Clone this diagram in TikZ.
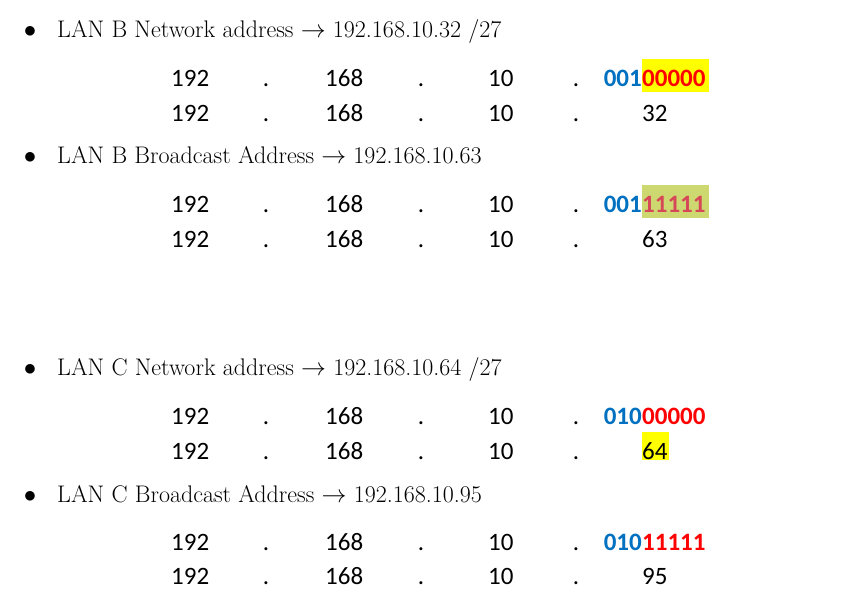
\documentclass[tikz,border=0pt]{standalone}
\usepackage{fontspec}
\newfontfamily\calib{Carlito}
\definecolor{bitblue}{RGB}{0,112,192}
\definecolor{bitred}{RGB}{255,0,0}
\definecolor{selred}{RGB}{214,72,88}
\definecolor{hlyellow}{RGB}{255,255,0}
\definecolor{hlgreen}{RGB}{205,216,112}

\def\colA{171}
\def\colB{325}
\def\colC{488}
\def\colD{642}

% one line: 192 . 168 . 10 .
\newcommand{\iprow}[2]{%
\node[num, anchor=base west] (#1-a) at (\colA, #2) {192};
\node[num, anchor=base] (#1-p) at (266, #2) {.};
\node[num, anchor=base west] (#1-b) at (\colB, #2) {168};
\node[num, anchor=base] (#1-q) at (421, #2) {.};
\node[num, anchor=base west] (#1-c) at (\colC, #2) {10};
\node[num, anchor=base] (#1-r) at (576, #2) {.};
}

\begin{document}
\begin{tikzpicture}[x=1pt, y=-1pt,
  num/.style={font=\calib\fontsize{25}{30}\selectfont, inner sep=0pt},
  bits/.style={font=\calib\bfseries\fontsize{25}{30}\selectfont, inner sep=0pt},
  head/.style={font=\fontsize{24}{28}\selectfont, inner sep=0pt, anchor=base west},
  dotb/.style={font=\fontsize{26}{30}\selectfont, inner sep=0pt, anchor=base}]
\useasboundingbox[fill=white] (0, 0) rectangle (845, 597);

% highlights
\fill[hlyellow] (\colD, 59) rectangle (709, 92);
\fill[hlgreen] (\colD, 185) rectangle (709, 218);
\fill[hlyellow] (\colD, 432) rectangle (669, 460);

% LAN B network
\node[dotb] (b1) at (30, 37) {$\bullet$};
\node[head] (hb1) at (57, 37) {LAN B Network address $\rightarrow$ 192.168.10.32 /27};
\iprow{bn1}{86}
\node[bits, anchor=base east, text=bitblue] (bn1-n) at (\colD, 86) {001};
\node[bits, anchor=base west, text=bitred] (bn1-h) at (\colD, 86) {00000};
\iprow{bn2}{121}
\node[num, anchor=base west] (bn2-d) at (\colD, 121) {32};

% LAN B broadcast
\node[dotb] (b2) at (30, 163) {$\bullet$};
\node[head] (hb2) at (57, 163) {LAN B Broadcast Address $\rightarrow$ 192.168.10.63};
\iprow{bb1}{212}
\node[bits, anchor=base east, text=bitblue] (bb1-n) at (\colD, 212) {001};
\node[bits, anchor=base west, text=selred] (bb1-h) at (\colD, 212) {11111};
\iprow{bb2}{247}
\node[num, anchor=base west] (bb2-d) at (\colD, 247) {63};

% LAN C network
\node[dotb] (b3) at (30, 375) {$\bullet$};
\node[head] (hc1) at (57, 375) {LAN C Network address $\rightarrow$ 192.168.10.64 /27};
\iprow{cn1}{424}
\node[bits, anchor=base east, text=bitblue] (cn1-n) at (\colD, 424) {010};
\node[bits, anchor=base west, text=bitred] (cn1-h) at (\colD, 424) {00000};
\iprow{cn2}{459}
\node[num, anchor=base west] (cn2-d) at (\colD, 459) {64};

% LAN C broadcast
\node[dotb] (b4) at (30, 502) {$\bullet$};
\node[head] (hc2) at (57, 502) {LAN C Broadcast Address $\rightarrow$ 192.168.10.95};
\iprow{cb1}{550}
\node[bits, anchor=base east, text=bitblue] (cb1-n) at (\colD, 550) {010};
\node[bits, anchor=base west, text=bitred] (cb1-h) at (\colD, 550) {11111};
\iprow{cb2}{584}
\node[num, anchor=base west] (cb2-d) at (\colD, 584) {95};
\end{tikzpicture}
\end{document}
